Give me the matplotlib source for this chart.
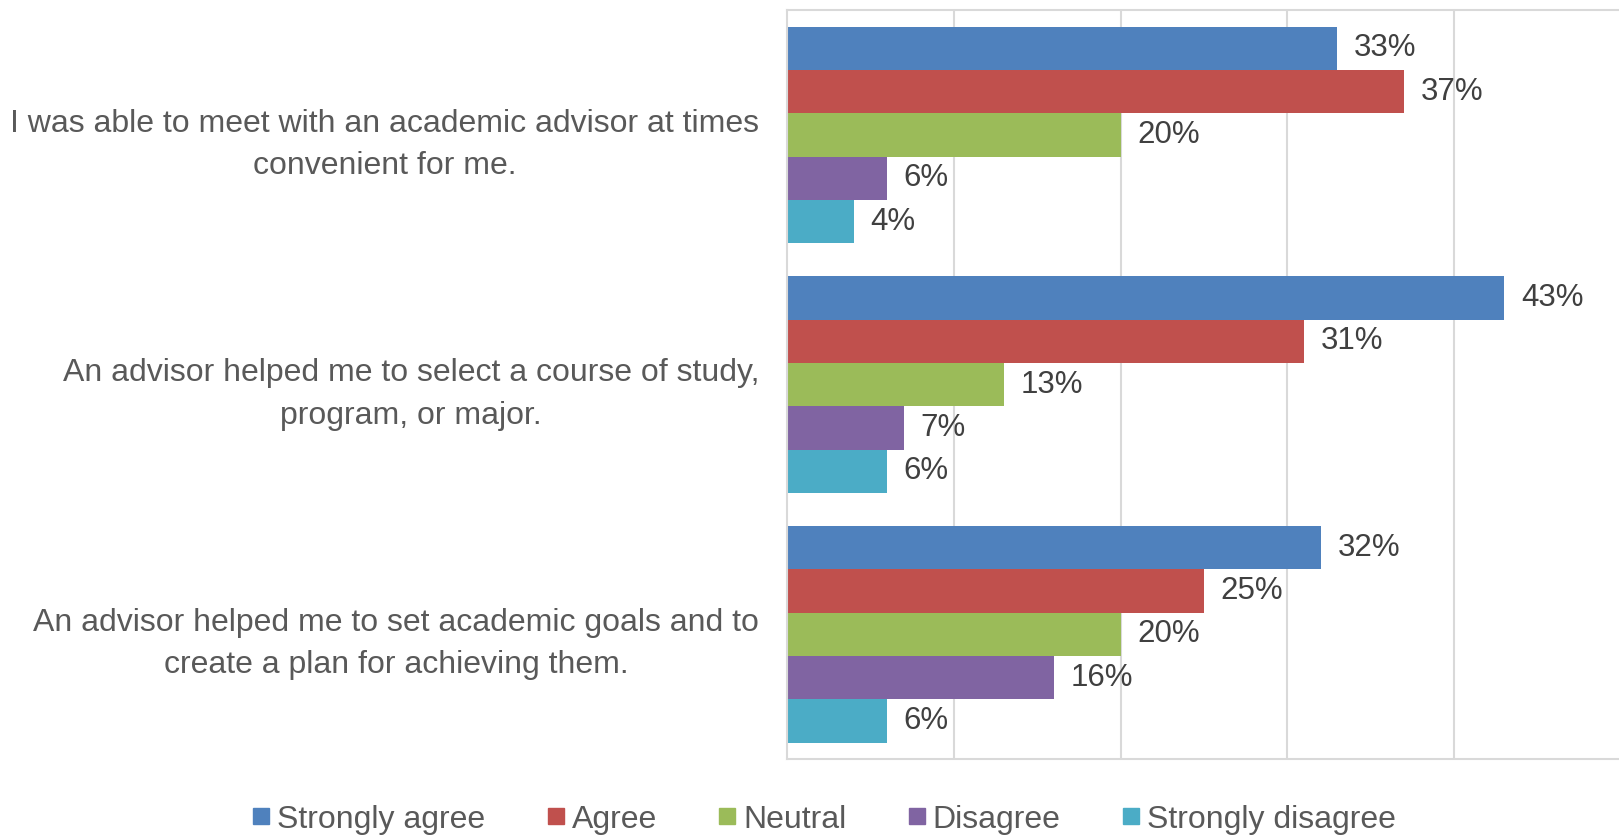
import numpy as np
import matplotlib.pyplot as plt
from matplotlib.lines import Line2D

plt.rcParams['font.family'] = ['Liberation Sans', 'DejaVu Sans']

questions = [
    "I was able to meet with an academic advisor at times\nconvenient for me.",
    "An advisor helped me to select a course of study,\nprogram, or major.",
    "An advisor helped me to set academic goals and to\ncreate a plan for achieving them.",
]
responses = ["Strongly agree", "Agree", "Neutral", "Disagree", "Strongly disagree"]
colors = ["#4F81BD", "#C0504D", "#9BBB59", "#8064A2", "#4BACC6"]

strongly_agree = [0.33, 0.43, 0.32]
agree = [0.37, 0.31, 0.25]
neutral = [0.20, 0.13, 0.20]
disagree = [0.06, 0.07, 0.16]
strongly_disagree = [0.04, 0.06, 0.06]
series = [strongly_agree, agree, neutral, disagree, strongly_disagree]

fig = plt.figure(figsize=(16.19, 8.38), dpi=100)
ax = fig.add_axes([0.4861, 0.0943, 0.5151, 0.8934])

y = np.arange(len(questions))
bh = 0.1736
for i, (vals, col) in enumerate(zip(series, colors)):
    pos = y + (i - 2) * bh
    ax.barh(pos, vals, height=bh, color=col, zorder=2)
    for p, v in zip(pos, vals):
        ax.annotate(f"{v*100:.0f}%", (v, p), xytext=(12, 0), textcoords="offset points",
                    ha="left", va="center", fontsize=22.5, color="#404040")

ax.set_xlim(0, 0.5)
ax.set_ylim(2.5, -0.5)
ax.set_xticks([0.1, 0.2, 0.3, 0.4])
ax.tick_params(axis="x", length=0, labelbottom=False)
ax.grid(axis="x", color="#D9D9D9", linewidth=1.5, zorder=0)
ax.set_yticks(y)
ax.set_yticklabels(questions, multialignment="center", fontsize=23, color="#595959",
                   linespacing=1.55)
ax.tick_params(axis="y", length=0, pad=20)
for s in ["left", "top", "bottom"]:
    ax.spines[s].set_color("#D9D9D9")
    ax.spines[s].set_linewidth(1.5)
ax.spines["right"].set_visible(False)

handles = [Line2D([], [], marker="s", linestyle="none", markersize=11, color=c) for c in colors]
fig.legend(handles, responses, loc="center", bbox_to_anchor=(0.5087, 0.022), ncol=5,
           frameon=False, fontsize=23, labelcolor="#595959", handlelength=0.6,
           handletextpad=0.2, columnspacing=1.9)

fig.savefig("out.png", dpi=100)
